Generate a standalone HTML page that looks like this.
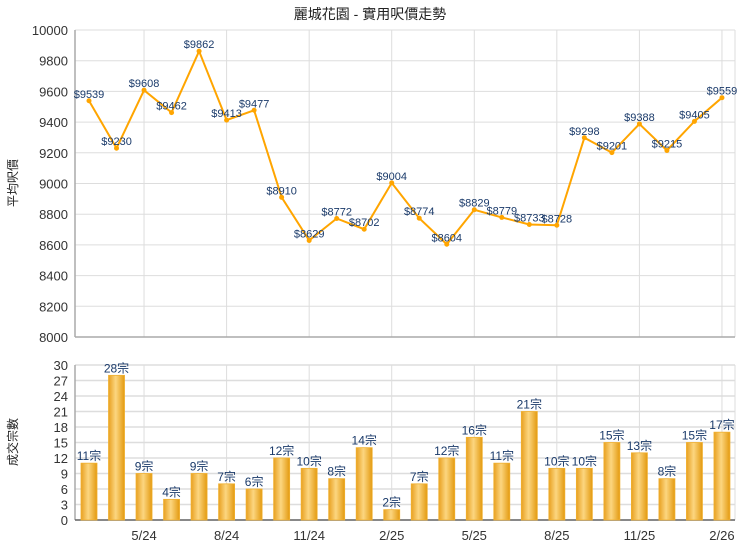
<!DOCTYPE html>
<html><head><meta charset="utf-8"><style>
body{margin:0;background:#fff;}
svg{display:block;font-family:"Liberation Sans","Noto Sans CJK TC",sans-serif;}
</style></head><body>
<svg id="s" width="740" height="550" xmlns="http://www.w3.org/2000/svg">
<defs>
<linearGradient id="g" x1="0" x2="1" y1="0" y2="0">
<stop offset="0" stop-color="#e8a020"/><stop offset="0.45" stop-color="#fcd680"/><stop offset="1" stop-color="#e39a10"/>
</linearGradient>
</defs>
<text x="370" y="19" text-anchor="middle" font-size="14" fill="#222">麗城花園 - 實用呎價走勢</text>
<text transform="translate(17,183) rotate(-90)" text-anchor="middle" font-size="12" fill="#222">平均呎價</text>
<text transform="translate(17,442) rotate(-90)" text-anchor="middle" font-size="12" fill="#222">成交宗數</text>
<g id="c"></g>
</svg>
<script>
var P=[9539,9230,9608,9462,9862,9413,9477,8910,8629,8772,8702,9004,8774,8604,8829,8779,8733,8728,9298,9201,9388,9215,9405,9559];
var C=[11,28,9,4,9,7,6,12,10,8,14,2,7,12,16,11,21,10,10,15,13,8,15,17];
var L=75,R=735,o='';
function X(i){return 89+i*27.52;}
function YP(p){return 30+(10000-p)*0.1535;}
function YC(c){return 520-c*155/30;}
for(var v=8000;v<=10000;v+=200){var y=YP(v);o+='<line x1="'+L+'" x2="'+R+'" y1="'+y+'" y2="'+y+'" stroke="#ddd"/>';o+='<text x="68" y="'+(y+5)+'" text-anchor="end" font-size="13" fill="#333">'+v+'</text>';}
for(var v=0;v<=30;v+=3){var y=YC(v);o+='<line x1="'+L+'" x2="'+R+'" y1="'+y+'" y2="'+y+'" stroke="#ddd" stroke-width="1.5"/>';o+='<text x="68" y="'+(y+5)+'" text-anchor="end" font-size="13" fill="#333">'+v+'</text>';}
var labs=['5/24','8/24','11/24','2/25','5/25','8/25','11/25','2/26'];
for(var k=0;k<8;k++){var x=X(2+3*k);o+='<line x1="'+x+'" x2="'+x+'" y1="30" y2="337" stroke="#ddd"/><line x1="'+x+'" x2="'+x+'" y1="365" y2="520" stroke="#ddd"/>';o+='<text x="'+x+'" y="540" text-anchor="middle" font-size="13" fill="#333">'+labs[k]+'</text>';}
o+='<line x1="'+R+'" x2="'+R+'" y1="30" y2="337" stroke="#ddd"/><line x1="'+R+'" x2="'+R+'" y1="365" y2="520" stroke="#ddd"/>';
o+='<line x1="'+L+'" x2="'+L+'" y1="30" y2="337" stroke="#aaa" stroke-width="1.5"/><line x1="'+L+'" x2="'+R+'" y1="337" y2="337" stroke="#aaa" stroke-width="1.5"/>';
o+='<line x1="'+L+'" x2="'+L+'" y1="365" y2="520" stroke="#aaa" stroke-width="1.5"/><line x1="'+L+'" x2="'+R+'" y1="520" y2="520" stroke="#666" stroke-width="1.5"/>';
for(var i=0;i<24;i++){var x=X(i),y=YC(C[i]);o+='<rect x="'+(x-8)+'" y="'+y+'" width="16" height="'+(520-y)+'" fill="url(#g)" stroke="#f0b030" stroke-width="0.8"/>';o+='<text x="'+x+'" y="'+(y-3)+'" text-anchor="middle" font-size="12" fill="#1a3a6a">'+C[i]+'宗</text>';}
var pts=P.map(function(p,i){return X(i)+','+YP(p)}).join(' ');
o+='<polyline points="'+pts+'" fill="none" stroke="#ffa500" stroke-width="2"/>';
for(var i=0;i<24;i++){var x=X(i),y=YP(P[i]);o+='<circle cx="'+x+'" cy="'+y+'" r="2.5" fill="#ffa500"/>';o+='<text x="'+x+'" y="'+(y-3)+'" text-anchor="middle" font-size="11" fill="#1a3a6a">$'+P[i]+'</text>';}
document.getElementById('c').innerHTML=o;
</script>
</body></html>
